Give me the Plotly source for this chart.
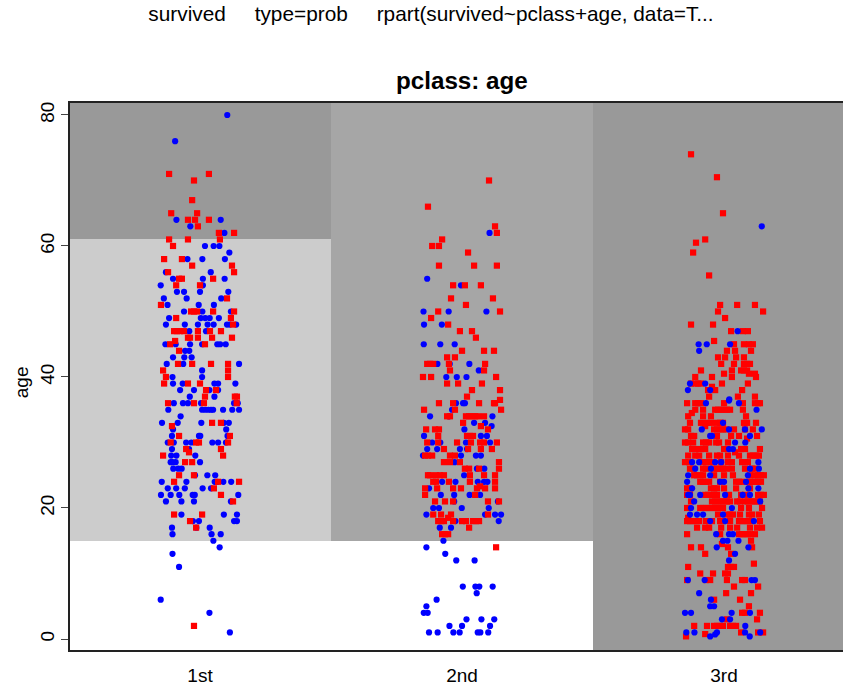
import plotly.graph_objects as go

# x positions of the classes and their labels
class_pos = [1, 2, 3]
class_labels = ["1st", "2nd", "3rd"]

# rpart regions (age bands per class) as stacked bars
band_low = [-1.83, 15, -1.83, 15, 61, -1.83, 15]
band_high = [15, 61, 15, 82, 82, 82, 82]
band_class = [1, 1, 2, 2, 1, 3, 3]
band_color = ["#ffffff", "#cccccc", "#ffffff", "#a6a6a6", "#999999", "#999999", "#999999"]

# points: (age, [jitter in hundredths of a class width])
first_blue = [
 (80,[10.4]),(76,[-9.5]),(64,[-9,7.9]),(63,[-3.7]),(62,[9.3]),(60,[1.9,5.2,7.4]),(59,[11.2]),
 (58,[-4.8,0.9,9.5]),(56,[-13,4.1]),(55,[-10.3,1.1,9.4]),(54,[-15,1.1]),(53,[-8.8,-6.1,0,10.8]),
 (52,[-13.8,-5.1,8.1]),(51,[-12.4,-0.5,5.3]),(50,[-6.1,0.9,11.8]),(49,[-11.8,0.3,2,3.7,7.2]),
 (48,[-13,-5.8,-0.8,2.9,5.2,10.3,11.4,13.8]),(47,[-4.1,2.3]),(45,[-13.2,-9.3,-3.8,0.8,6.6,7.7,9.8]),
 (44,[-5.7,-4.1]),(43,[-10.3,-6,-3.2]),(42,[-12.7,-6.4,14.9]),(41,[0.8]),(40,[-10.5,0.8]),
 (39,[-10.3,-6.6,5.5,6.9,13.5]),(38,[-7.6,-2.3,3.6,6.9]),(37,[-3.9,5.5]),(36,[-10,-6.5,-4.6,0.4,13,14.4]),
 (35,[-12.1,0.8,2,3.2,4.2,5,8.8,12.3,14.9]),(34,[-7.4]),(33,[-14.5,-8.5,0.5,9.1,11]),(32,[-10.3,10]),
 (31,[-10.7,-0.4,0.1,10.5]),(30,[-12.3,-10,-5.3,-3.3,4.7,6.9,9.9]),(29,[-10.7,-4.2]),(28,[-11,-9,-1.8]),
 (27,[-11.2,-10.5,-9.3,0]),(26,[-10.2,-8.3,-7]),(25,[-1.9,2.8,5.8]),(24,[-14.6,-5.2,5.6,6.6,8.9,11.9]),
 (23,[-12.3,-9.1,-5.8,1,4.2]),(22,[-14.9,-11.2,-7.9,-2.8,-2,14.6]),(21,[-13,-7.1,-2.3,11.8]),
 (19,[-7.1,9.1,14.1]),(18,[-2.7,-0.4,13,14.1]),(17,[-10.7,-1.4,3.7]),(16,[-10.5,4.4,7.9]),(15,[5.1]),
 (14,[7.5]),(13,[-10.5]),(11,[-8]),(6,[-15]),(4,[3.6]),(1,[11.4]),
]
first_red = [
 (71,[-11.8,3.4]),(70,[-2.3]),(67,[-3]),(65,[-11,-1.1]),(64,[-4.6,-1.9,3.4]),(63,[-0.8]),(62,[7.2,13]),
 (61,[-11.8,-4.6,7.6]),(60,[-10.3]),(58,[-13.7,-6.9]),(57,[-3,12.2]),(56,[-12.2,13]),(55,[-8,-6.9,5]),
 (54,[-9.1,0]),(52,[10.3]),(51,[-14.9]),(50,[-3.4,-2.3,-1.1,5,13]),(49,[-9.1,11.8]),(48,[12.6]),
 (47,[-9.9,-8.8,-7.6,-6.1,-0.8,3.8,8]),(46,[-4.6,-3.8,-0.8,4.6,12.2]),(45.5,[-9.5]),(45,[-11.4,1.9]),
 (44,[-8]),(42,[-8.4,-3,4.2,10.7]),(41,[-14.1,10.7]),(40,[-13,10.7]),(39,[-13.7,-4.6,0]),(38,[2.3,6.1]),
 (37,[1.9,13.3,14.1]),(36,[-12.2,-2.3,1.5,14]),(33,[4.6,8]),(32.5,[-10.7]),(31,[-8,11.4]),
 (30,[-11.2,-1.5,-0.4,10.7]),(29,[-5.3,8]),(28.5,[-4.2]),(28,[-14.1,8.8]),(27,[-5.7,-3]),(25,[-8,-2.3]),
 (24,[-9.9,6.9,14.9]),(23,[5.3]),(22,[8]),(21,[12.6]),(19,[-9.9,0.8]),(18,[-3.8]),(17,[-1.5]),(2,[-2.3]),
]
second_blue = [
 (62,[10.5]),(55,[-13.3]),(54,[-0.4]),(50,[-14.7,-5.1,9.3]),(48,[-14.5,-7.7]),(45,[-14.6,-8.3,-2.8]),
 (42,[-9.4,-4.7,2.8]),(41,[6.4]),(40,[-6,-2,1.7]),(36,[-2.3,0.4,1.1]),(35,[-3.8]),(34,[-12.2,-5,11.6]),
 (33,[4.6,8.8]),(32.5,[11.3]),(32,[0.9]),(31,[-14.5,7.2,9.5]),(30,[-11.4,-8.3,1.5,10.7]),
 (29,[-13.3,-9.5,-0.8,1.9]),(28,[-14.9,-0.4,5.3,7.2]),(27,[-2.8]),(26,[5.7,8.5]),(25,[0.8]),
 (24,[-7.6,-2.5,6,8.4,9.7]),(23,[-12.6]),(22,[-3,-8.1,2.9,6.9]),(21,[-3,13.7]),(20,[-11,-8.8,-0.1,10.2]),
 (19,[-13.6,8.8,12.6,14.9]),(18,[-2.5,14]),(17,[-8.5,-4.2]),(15,[-7.1]),(14,[-13.6]),(13,[-6.4]),
 (12,[-2.2,4.8]),(8,[0.3,5.1,6.6,11.7]),(7,[5.6]),(6,[-9.7]),(5,[-13.6]),(4,[-14.6,-13.1]),
 (3,[1.7,7.4,12.3]),(2,[-4.8,0,10.7]),(1,[-12.6,-9.3,-3.3,-0.9,6,7,10]),
]
second_red = [
 (70,[10.3]),(66,[-13]),(63,[12.6]),(62,[13.3]),(61,[-7.6]),(60,[-11.4,-8.8]),(59,[2.3]),(57,[-8.8,4.6,13.3]),
 (54,[-3.4,1.1,7.2]),(52,[-4.2,11.8]),(51,[1.5]),(50,[-9.1,14.5]),(49,[-11.8]),(48,[-5.3]),(47,[-0.8,3.8]),
 (46,[5.3]),(44,[0,8.4,12.2]),(43,[-5.7,-2.7]),(42,[-13.3,-12.2,-11,-5,8.8]),(41,[-4.6,8.4]),
 (40,[-14.9,-11.8,13]),(39,[-5.7,-1.5,7.6]),(38,[3.8,14.5]),(37,[1.9]),(36.5,[14.5]),
 (36,[-8.8,-3.4,6.5,12.2,12.6]),(35,[-14.5,-2.7,14.9]),(34,[-5.7,-4.6,1.5,2.7,3.8,5,6.1,8.4]),(33,[0.4]),
 (32.5,[7.2]),(32,[-13.7,-10.3,-8.8,9.9]),(31,[-9.1,1.9,3,4.2]),(30,[-13.3,-9.1,-1.9,3.4,6.9,8.4,13.3]),
 (29,[-6.9,2.3,7.2,11.4]),(28,[-14.1,-13,-11.4,-4.6,-2.7]),(27,[-6.9,-4.6,-0.8,14.1]),(26,[1.1,2.7,6.5,14.1]),
 (25,[-13,-12.2,-9.9,-8.4,-6.9,3,8.4,12.6]),(24,[-11,-9.9,-5,3,12.6]),(23.3,[6.9]),
 (23,[-14.1,-9.5,-3.4,-0.4,5.7,8.8,12.6]),(22,[-14.1,5]),(21,[-10.3,-6.5,-3.4,9.9,14.1]),
 (19,[-11,-8,-4.2,9.9]),(18.5,[-5.3]),(18,[-9.1,-8,-6.9,-3.4,0,1.5,4.2,5.3,6.5]),(17,[2.7]),
 (16,[-7.6,-6.5,-5.3]),(14,[13]),
]
third_blue = [
 (63,[14.4]),(47,[5.2]),(45,[-9.7,-6.6,2.3]),(44,[-9.5]),(39,[-13,-7.2]),(38,[-13.8,-5.3]),(36.6,[2]),
 (36.4,[1.9]),(36,[-6.9,5.7]),(35,[12.4]),(33,[-0.4]),(32,[-8.5,1.9,8,14.4]),(31,[-5.3,-4.6,9.9]),
 (30,[4.2,8.1]),(29,[1.9,3.4]),(27,[-12.2,-9.5,-3.4,-1.1,13.1]),(26,[-11,-5,9.9,13.3]),(25,[-13.7,-5.3,9.1]),
 (24,[-14.1,-1.5,0,8.4]),(23,[-12.2,9.3,13.1]),(22,[-13.7,-13,-9.1,0.4,7.1,9.9]),(21,[-11.4,13.8]),
 (20,[-12.6,3]),(19,[-13,-10.3,-8,-0.4]),(18,[-5.3,0.4,11.4]),(16,[-3,1.9,3.4]),(15,[-0.4,1.3,5.5]),
 (14,[-2.8,9.3]),(13,[4.2]),(12,[1.9]),(9,[-13.8,-7.4,10.5,11.8]),(7,[-9.5]),(6,[-5]),(5,[-5.3,-3.8]),
 (4,[-14.9,-12.6,2.9,9.9]),(3,[-0.8,2.3]),(2,[8.1]),(1,[-14.4,-11.3,-2.7,8,13.8]),(0.7,[-3.4]),(0.4,[-5.3,9.8]),
]
third_red = [
 (74,[-12.6]),(70.5,[-2.7]),(65,[-0.4]),(61,[-7.2]),(60.5,[-10.7]),(59,[-11.8]),(55.5,[-5.7]),(51,[-1.5,5,11.8]),
 (50,[-2.3,14.9]),(49,[0.4]),(48,[-12.6,-4.2]),(47,[2.7,7.2,9.1]),(45.5,[-3.8]),(45,[3.8,7.6,9.5,11]),
 (44,[1.1,4.2,10.3]),(43,[-2.3,0.4,4.6,7.6]),(42,[-1.1,3.8,7.6,8.8,9.9]),(41,[-8.8,3,6.5,7.6,8.8]),
 (40.5,[0,9.5,11.8]),(40,[-11,-4.6,3,12.2]),(39,[-12.6,-11,-9.9,-8.8,-0.8,9.1]),(38.5,[-4.6]),(38,[-6.1,-3.4,6.9]),
 (37,[-5.7,5.3,11.8]),(36,[-14.1,-11,-9.9,-8.8,0,7.2,11.8,13,13.7]),(35,[-11,-8,-3.4,-2.3,-1.1,0,1.1,2.3,7.2]),
 (34.5,[-12.3]),(34,[-13.7,-8,-5,8.4]),(33,[-13,-8.8,-6.5,-5,-2.7,-1.5,-0.4,7.6,8.8,12.2]),(32.5,[-7.2]),
 (32,[-14.9,-13.7,-3.8,-2.7,-1.5,-0.4,0.8,3.8,8,11]),(31,[-12.6,-11.4,-2.7,2.7,5.7,12.6]),(30.6,[8.8]),
 (30,[-14.9,-13.7,-11.8,-8,-6.9,-5.7,-3,-1.9,1.5]),(29,[-12.2,-11,-8.8,-7.2,0,1.1,6.5,8,13.7]),(28.5,[4.2]),
 (28,[-13.7,-11,-9.5,-5.7,-2.7,-1.5,1.5,5.7,9.9,11,12.2,13.3]),
 (27,[-14.9,-13.3,-8,-6.9,-5.7,-4.6,-1.1,1.5,3,6.9,8,9.1]),
 (26,[-13,-11.8,-8,-6.9,-3.8,-2.7,-1.5,-0.4,0.8,3,8,10.7,11.8]),
 (25,[-11.4,-10.3,-9.1,-8,-3.8,0,3.4,9.9,11.8,13,14.1,15.2]),
 (24,[-9.1,-8,-6.9,-5.7,-1.5,4.6,5.7,6.9,9.5,10.7,11.8,13,14.1]),(23,[-14.1,-13,-5,-3.8,-2.7,0,4.6,9.9]),
 (22,[-14.1,-13,-7.2,-6.1,-3.8,-2.7,1.9,6.5,8,13,14.1,15.2]),
 (21,[-12.6,-4.6,-3.4,-2.3,-1.1,0,1.1,2.3,5,6.1,8,9.1,10.3,11.4,12.6,13.7]),
 (20,[-14.1,-9.1,-8,-6.9,-5.7,-4.6,-3.4,-2.3,-1.1,-0.4,6.5,9.5,14.5]),(19,[-2.3,1.1,2.3,3.4,6.1,9.5,10.7,13.3]),
 (18.5,[-13.7]),(18,[-14.1,-13,-11.8,-10.7,-9.5,-6.9,-4.6,-1.5,-0.4,2.3,5.7,6.9,8,9.1,10.3,13.7]),
 (17,[-10.3,-7.2,-5.7,-1.1,2.3,5,9.9,12.6,14.5]),(16,[-14.1,-1.5,5.7,6.9,8,9.1,10.3,11.8]),(15,[10.3]),(14.5,[-0.8]),
 (14,[-12.6,-8.8,1.5,10.7]),(13,[-7.2,2.7]),(11.5,[11.4]),(11,[-13.7,1.5,2.7,3.8]),(10,[-9.1,-4.2,0.4,1.5]),
 (9,[-14.1,-6.9,-5.3,1.1,6.9,8]),(8,[3.8,13]),(7,[0.8,10.3]),(6,[-3.8,6.1]),(5,[9.5]),(4,[6.9,8,13.7]),(3,[1.1,12.6]),
 (2,[-11.4,-6.5,-3.8,-2.7,-1.5,-0.4,2.3,3.4,4.6]),(1,[6.5,13,14.9]),(0.75,[-7.2]),(0.4,[-14.5]),
]

y_range = [-1.68, 81.83]
x_range = [0.5038, 3.454]
y_ticks = [0, 20, 40, 60, 80]
FONT = "Liberation Sans, Arial, sans-serif"

fig = go.Figure()
for lo, hi, c, col in zip(band_low, band_high, band_class, band_color):
    fig.add_trace(go.Bar(x=[c], y=[hi - lo], base=[lo], width=1, marker=dict(color=col, line=dict(width=0)),
                         showlegend=False, hoverinfo="skip"))


def add_points(rows, cls, color, symbol, size):
    xs, ys = [], []
    for age, jitters in rows:
        for j in jitters:
            xs.append(cls + j / 100)
            ys.append(age)
    fig.add_trace(go.Scatter(x=xs, y=ys, mode="markers", showlegend=False, cliponaxis=True,
                             marker=dict(color=color, symbol=symbol, size=size, line=dict(width=0))))


BLUE_SIZE = 6.2
RED_SIZE = 6.2
add_points(first_blue, 1, "#0000ff", "circle", BLUE_SIZE)
add_points(first_red, 1, "#ff0000", "square", RED_SIZE)
add_points(second_blue, 2, "#0000ff", "circle", BLUE_SIZE)
add_points(second_red, 2, "#ff0000", "square", RED_SIZE)
add_points(third_red, 3, "#ff0000", "square", RED_SIZE)
add_points(third_blue, 3, "#0000ff", "circle", BLUE_SIZE)

fig.update_layout(
    width=843, height=687, autosize=False, barmode="overlay", bargap=0,
    paper_bgcolor="white", plot_bgcolor="white",
    margin=dict(l=70, r=0, t=102.5, b=37, pad=0),
    font=dict(family=FONT, color="#000000", size=19),
    title=dict(text="survived\u00a0\u00a0\u00a0\u00a0\u00a0type=prob\u00a0\u00a0\u00a0\u00a0\u00a0rpart(survived~pclass+age, data=T...",
               x=431 / 843, xanchor="center", y=1 - 14 / 687, yanchor="middle", font=dict(size=20.8, family=FONT)),
    xaxis=dict(range=x_range, tickvals=class_pos, ticktext=class_labels, ticks="", showgrid=False, zeroline=False,
               showline=True, linecolor="#222222", linewidth=1.6, mirror=True, tickfont=dict(size=19), fixedrange=True,
               ticklabelstandoff=7),
    yaxis=dict(range=y_range, tickvals=y_ticks, ticks="outside", ticklen=7, tickwidth=1, tickcolor="#444444",
               tickangle=-90, showgrid=False, zeroline=False, showline=True, linecolor="#222222", linewidth=1.6,
               tickfont=dict(size=19), fixedrange=True),
    annotations=[
        dict(text="<b>pclass: age</b>", xref="x", x=2, yref="paper", y=1, yshift=22.5, yanchor="middle",
             showarrow=False, font=dict(size=24.2, family=FONT)),
        dict(text="age", xref="paper", x=0, xshift=-49, xanchor="center", yref="y", y=39.2, yanchor="middle",
             textangle=-90, showarrow=False, font=dict(size=19, family=FONT)),
    ],
)
fig.write_html("out.html", config={"displayModeBar": False},
               post_script="document.body.style.margin='0';document.documentElement.style.overflow='hidden';")
